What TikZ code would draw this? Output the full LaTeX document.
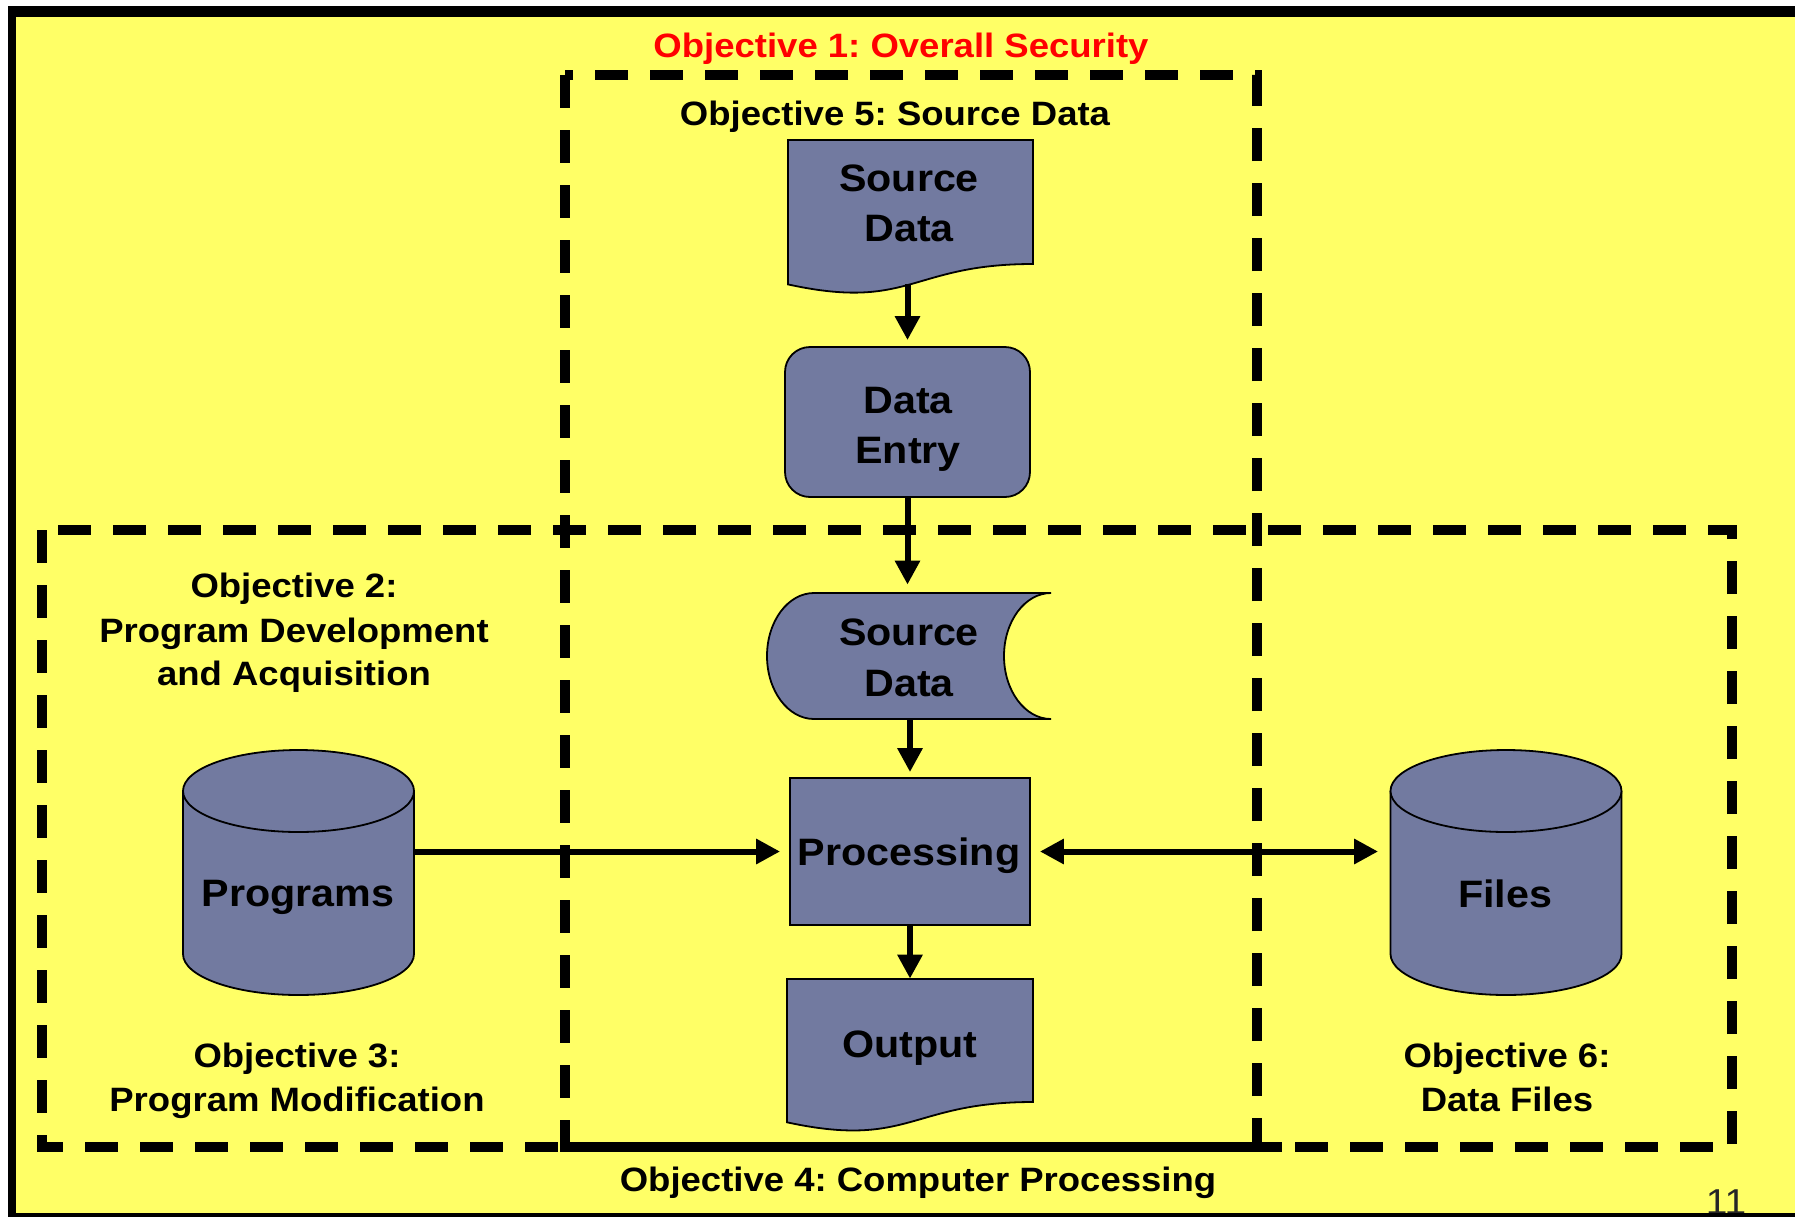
\documentclass[tikz,border=0pt]{standalone}
\usepackage{fontspec}
\setmainfont{Liberation Sans}[FakeStretch=1.08]
\usetikzlibrary{arrows.meta}
\definecolor{bgyellow}{RGB}{255,255,102}
\definecolor{nodeblue}{RGB}{114,122,160}
\definecolor{titlered}{RGB}{255,0,0}
\frenchspacing

\begin{document}
\begin{tikzpicture}[x=0.5pt,y=-0.5pt,
  frameline/.style={line width=5pt, dash pattern=on 16.5pt off 11pt},
  arr/.style={line width=3pt, -{Triangle[length=12pt,width=12pt]}},
  darr/.style={line width=3pt, {Triangle[length=12pt,width=12pt]}-{Triangle[length=12pt,width=12pt]}},
  shapefill/.style={fill=nodeblue, draw=black, line width=0.9pt},
  lbl/.style={font=\bfseries\fontsize{16.9pt}{22pt}\selectfont, anchor=base, inner sep=0pt},
  ntxt/.style={font=\bfseries\fontsize{19.1pt}{25pt}\selectfont, anchor=base, inner sep=0pt},
  area/.style={inner sep=0pt, draw=none},
]
\useasboundingbox (0,0) rectangle (1795,1217);
% background and frame
\fill[white] (0,0) rectangle (1795,1217);
\fill[black] (8,6) rectangle (1795,1217);
\fill[bgyellow] (16,17) rectangle (1795,1213);
\node[font=\fontsize{18pt}{20pt}\selectfont, anchor=base, inner sep=0pt, text=black!85] (pagenum) at (1726,1214) {11};
\fill[black] (8,1213) rectangle (1795,1217);

% dashed objective boxes
\draw[frameline] (565,75) rectangle (1257,1147);
\draw[frameline] (42,530) rectangle (1732,1147);
\draw[line width=5pt] (565,1147) -- (1282,1147);

% labels
\node[lbl, text=titlered] (t1) at (901,57) {Objective 1: Overall Security};
\node[lbl] (t5) at (895,125) {Objective 5: Source Data};
\node[lbl] (t2a) at (294,597) {Objective 2:};
\node[lbl] (t2b) at (294,642) {Program Development};
\node[lbl] (t2c) at (294,685) {and Acquisition};
\node[lbl] (t3a) at (297,1067) {Objective 3:};
\node[lbl] (t3b) at (297,1111) {Program Modification};
\node[lbl] (t6a) at (1507,1067) {Objective 6:};
\node[lbl] (t6b) at (1507,1111) {Data Files};
\node[lbl] (t4) at (918,1191) {Objective 4: Computer Processing};

% Source Data document
\node[area, minimum width=122.5pt, minimum height=72pt] (src) at (910.5,212) {};
\draw[shapefill] (788,140) -- (1033,140) -- (1033,264)
  .. controls (910.5,264) and (910.5,311.2) .. (788,284.4) -- cycle;
\node[ntxt] (srcA) at (909,191) {Source};
\node[ntxt] (srcB) at (909,241.5) {Data};

% Data Entry
\node[shapefill, rounded corners=12.5pt, minimum width=122.5pt, minimum height=75pt] (entry) at (907.5,422) {};
\node[ntxt] (entA) at (908,413) {Data};
\node[ntxt] (entB) at (908,463) {Entry};

% Stored source data
\node[area, minimum width=142pt, minimum height=63pt] (store) at (909,656) {};
\draw[shapefill] (814,593) -- (1051,593)
  arc[start angle=270, end angle=90, x radius=47, y radius=63]
  -- (814,719)
  arc[start angle=90, end angle=270, x radius=47, y radius=63] -- cycle;
\node[ntxt] (stA) at (909,645) {Source};
\node[ntxt] (stB) at (909,696) {Data};

% Processing
\node[shapefill, minimum width=120pt, minimum height=73.5pt] (proc) at (910,851.5) {};
\node[ntxt] (procT) at (909,865) {Processing};

% Output document
\node[area, minimum width=123pt, minimum height=65pt] (out) at (910,1044) {};
\draw[shapefill] (787,979) -- (1033,979) -- (1033,1102)
  .. controls (910,1102) and (910,1148.9) .. (787,1122.3) -- cycle;
\node[ntxt] (outT) at (910,1057) {Output};

% Programs cylinder
\node[area, minimum width=115.5pt, minimum height=122.5pt] (prog) at (298.5,872.5) {};
\draw[shapefill] (183,791) -- (183,954)
  arc[start angle=180, end angle=0, x radius=115.5, y radius=41] -- (414,791);
\draw[shapefill] (298.5,791) ellipse[x radius=115.5, y radius=41];
\node[ntxt] (progT) at (298,906) {Programs};

% Files cylinder
\node[area, minimum width=115.5pt, minimum height=122.5pt] (files) at (1506,872.5) {};
\draw[shapefill] (1390.5,791) -- (1390.5,954)
  arc[start angle=180, end angle=0, x radius=115.5, y radius=41] -- (1621.5,791);
\draw[shapefill] (1506,791) ellipse[x radius=115.5, y radius=41];
\node[ntxt] (filesT) at (1505,907) {Files};

% connectors
\draw[arr, shorten >=3pt] (entry.north |- src.south) -- (entry.north);
\draw[arr, shorten >=4pt] (entry.south) -- (entry.south |- store.north);
\draw[arr, shorten >=2.5pt] (store.south -| proc.north) -- (proc.north);
\draw[arr] (proc.south) -- (out.north);
\draw[arr, shorten >=4.5pt] (prog.east |- proc.west) -- (proc.west);
\draw[darr, shorten <=4.5pt, shorten >=6pt] (proc.east) -- (proc.east -| files.west);
\end{tikzpicture}
\end{document}
